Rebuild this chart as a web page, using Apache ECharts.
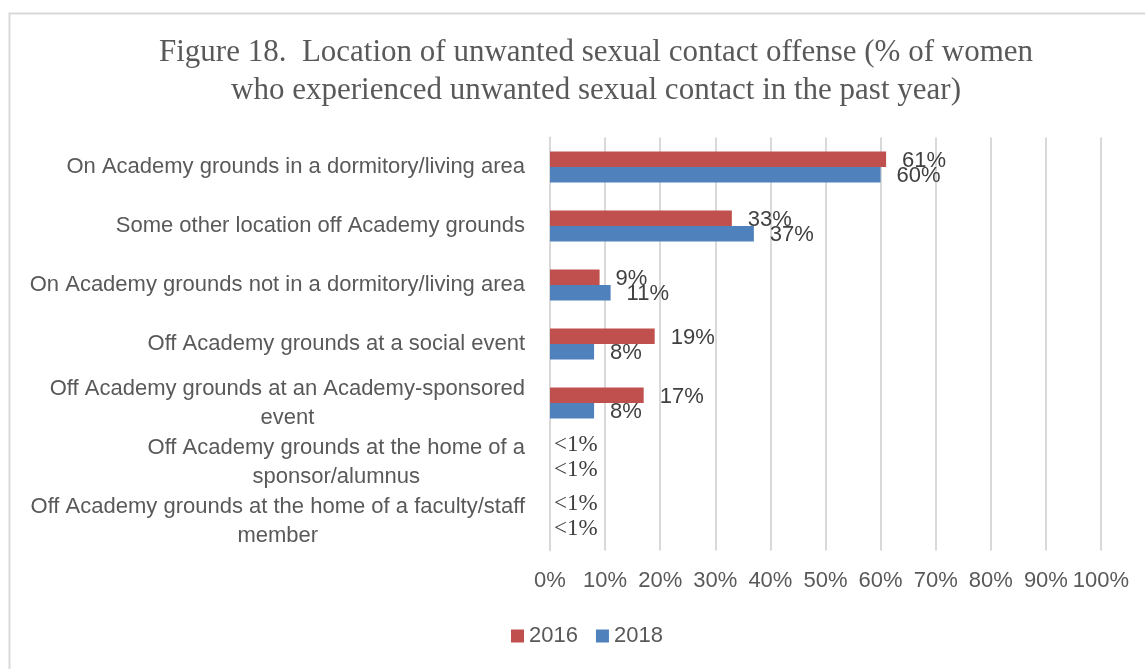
<!DOCTYPE html>
<html>
<head>
<meta charset="utf-8">
<script src="https://cdn.jsdelivr.net/npm/echarts@6/dist/echarts.min.js"></script>
<style>
  html, body { margin: 0; padding: 0; background: #fff; }
  #chart { width: 1145px; height: 669px; }
</style>
</head>
<body>
<div id="chart"></div>
<script>
const locations = [
  "On Academy grounds in a dormitory/living area",
  "Some other location off Academy grounds",
  "On Academy grounds not in a dormitory/living area",
  "Off Academy grounds at a social event",
  "Off Academy grounds at an Academy-sponsored\nevent",
  "Off Academy grounds at the home of a\nsponsor/alumnus",
  "Off Academy grounds at the home of a faculty/staff\nmember",
];

// 0 here stands for the "<1%" answers (no visible bar)
const pct2016 = [61, 33, 9, 19, 17, 0, 0];
const pct2018 = [60, 37, 11, 8, 8, 0, 0];

const xTicks = [0, 10, 20, 30, 40, 50, 60, 70, 80, 90, 100];

const sans = "Liberation Sans";
const serif = "Liberation Serif";

const chart = echarts.init(document.getElementById("chart"));

// items under 1% get a serif "<1%" label sitting close to the axis
function toItems(values, dy) {
  return values.map((v) => {
    if (v >= 1) return v;
    return {
      value: v,
      label: {
        distance: 4,
        offset: [0, dy],
        fontFamily: serif,
        fontSize: 23,
      },
    };
  });
}

function barLabel(dy) {
  return {
    show: true,
    position: "right",
    distance: 16,
    offset: [0, dy],
    color: "#404040",
    fontFamily: sans,
    fontSize: 22,
    formatter: (p) => (p.value < 1 ? "<1%" : p.value + "%"),
  };
}

chart.setOption({
  backgroundColor: "#fff",
  animation: false,
  graphic: [
    {
      type: "rect",
      left: 7,
      top: 11,
      shape: { width: 1200, height: 700 },
      style: { fill: "none", stroke: "#d9d9d9", lineWidth: 2 },
      silent: true,
    },
  ],
  title: {
    text: "Figure 18.  Location of unwanted sexual contact offense (% of women\nwho experienced unwanted sexual contact in the past year)",
    left: 596,
    top: 34,
    textAlign: "center",
    padding: 0,
    textStyle: {
      fontFamily: serif,
      fontSize: 31,
      fontWeight: "normal",
      color: "#595959",
      lineHeight: 38,
    },
  },
  legend: {
    data: ["2016", "2018"],
    left: 511,
    top: 625,
    padding: 0,
    icon: "rect",
    itemWidth: 13,
    itemHeight: 13,
    itemGap: 18,
    textStyle: { fontFamily: sans, fontSize: 22, color: "#595959" },
  },
  grid: {
    left: 550,
    right: 44,
    top: 137.5,
    bottom: 118.5,
    containLabel: false,
  },
  xAxis: {
    type: "value",
    min: xTicks[0],
    max: xTicks[xTicks.length - 1],
    interval: 10,
    axisLine: { show: false },
    axisTick: { show: false },
    splitLine: { lineStyle: { color: "#d9d9d9", width: 2 } },
    axisLabel: {
      margin: 19,
      color: "#595959",
      fontFamily: sans,
      fontSize: 22,
      formatter: (v) => v + "%",
    },
  },
  yAxis: {
    type: "category",
    data: locations,
    inverse: true,
    axisLine: { show: true, lineStyle: { color: "#d9d9d9", width: 2 } },
    axisTick: { show: false },
    axisLabel: {
      margin: 25,
      align: "right",
      // wrapped lines are centred under each other, block stays right-aligned
      formatter: (name) => name.split("\n").map((s) => "{c|" + s + "}").join("\n"),
      rich: {
        c: {
          align: "center",
          color: "#595959",
          fontFamily: sans,
          fontSize: 22,
          lineHeight: 29,
        },
      },
    },
  },
  series: [
    {
      name: "2016",
      type: "bar",
      data: toItems(pct2016, -9),
      color: "#C0504D",
      barWidth: 15.5,
      barGap: "0%",
      label: barLabel(2),
    },
    {
      name: "2018",
      type: "bar",
      data: toItems(pct2018, 0),
      color: "#4F81BD",
      barWidth: 15.5,
      barGap: "0%",
      label: barLabel(1),
    },
  ],
});
</script>
</body>
</html>
